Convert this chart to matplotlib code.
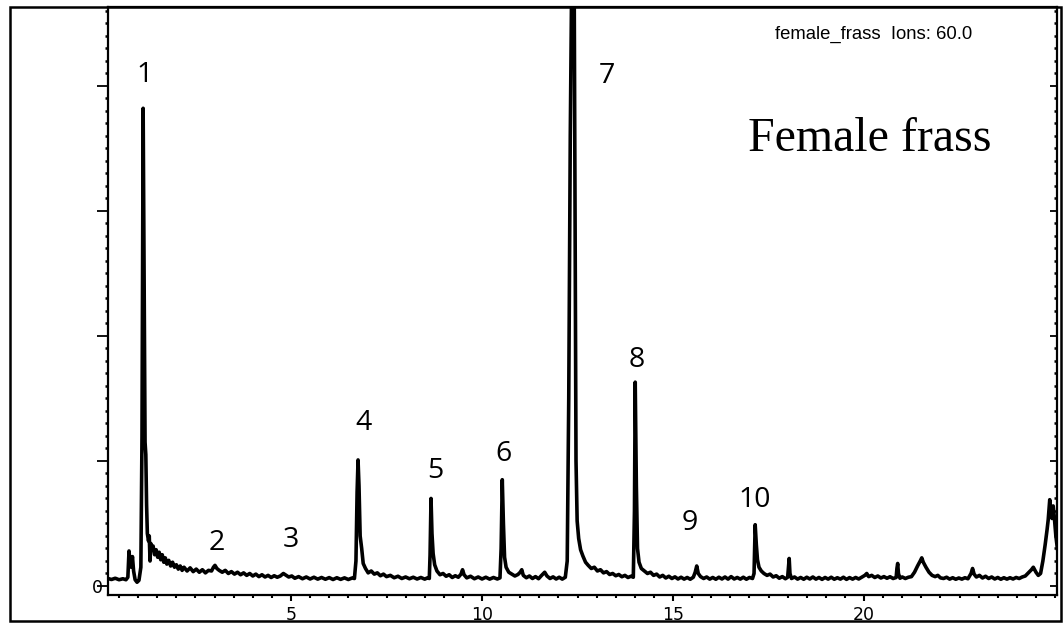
import matplotlib
matplotlib.use("Agg")
import matplotlib.pyplot as plt
from matplotlib.patches import Rectangle
from matplotlib.ticker import MultipleLocator, FixedLocator

# ---- data (retention time in min, relative abundance) ----
rt_min = [
    0.21, 0.30, 0.40, 0.50, 0.60, 0.68, 0.73, 0.76, 0.79, 0.82, 0.85, 0.88, 0.92, 0.97, 1.02, 1.07,
    1.10, 1.13, 1.16, 1.18, 1.20, 1.22, 1.24, 1.27, 1.29, 1.31, 1.33, 1.36, 1.39, 1.43, 1.47, 1.51,
    1.55, 1.59, 1.63, 1.67, 1.71, 1.75, 1.80, 1.85, 1.90, 1.95, 2.00, 2.05, 2.10, 2.15, 2.20, 2.28,
    2.36, 2.44, 2.52, 2.60, 2.68, 2.76, 2.84, 2.92, 2.97, 3.01, 3.06, 3.12, 3.20, 3.28, 3.36, 3.44,
    3.52, 3.60, 3.68, 3.76, 3.84, 3.92, 4.00, 4.08, 4.16, 4.24, 4.32, 4.40, 4.48, 4.56, 4.64, 4.72,
    4.80, 4.86, 4.94, 5.02, 5.10, 5.20, 5.30, 5.40, 5.50, 5.60, 5.70, 5.80, 5.90, 6.00, 6.10, 6.20,
    6.30, 6.40, 6.50, 6.60, 6.66,
    6.70, 6.73, 6.755, 6.78, 6.81, 6.85, 6.89, 6.95, 7.02, 7.10, 7.18, 7.26, 7.34, 7.42, 7.50, 7.60,
    7.70, 7.80, 7.90, 8.00, 8.10, 8.20, 8.30, 8.40, 8.50, 8.58, 8.62,
    8.64, 8.665, 8.69, 8.72, 8.76, 8.82, 8.90, 8.98, 9.06, 9.14, 9.22, 9.30, 9.38, 9.45, 9.49, 9.53,
    9.60, 9.70, 9.80, 9.90, 10.00, 10.10, 10.20, 10.30, 10.40, 10.47,
    10.50, 10.53, 10.56, 10.59, 10.63, 10.70, 10.78, 10.86, 10.94, 11.00, 11.04, 11.08, 11.16, 11.24,
    11.32, 11.40, 11.48, 11.56, 11.64, 11.70, 11.78, 11.86, 11.94, 12.02, 12.10, 12.18,
    12.23, 12.27, 12.31, 12.36, 12.41, 12.44, 12.46, 12.49, 12.53, 12.58, 12.64, 12.71, 12.78, 12.86,
    12.94, 13.02, 13.10, 13.18, 13.26, 13.34, 13.42, 13.50, 13.58, 13.66, 13.74, 13.82, 13.90, 13.96,
    13.99, 14.01, 14.04, 14.07, 14.11, 14.17, 14.25, 14.33, 14.41, 14.49, 14.57, 14.65, 14.73, 14.81,
    14.89, 14.97, 15.05, 15.13, 15.21, 15.29, 15.37, 15.45, 15.53, 15.58, 15.62, 15.66, 15.72, 15.80,
    15.88, 15.96, 16.04, 16.12, 16.20, 16.28, 16.36, 16.44, 16.52, 16.60, 16.68, 16.76, 16.84, 16.92,
    17.00, 17.08, 17.12,
    17.15, 17.18, 17.21, 17.25, 17.31, 17.38, 17.46, 17.54, 17.62, 17.70, 17.78, 17.86, 17.94, 18.00,
    18.02, 18.04, 18.06, 18.10, 18.18, 18.26, 18.34, 18.42, 18.50, 18.58, 18.66, 18.74, 18.82, 18.90,
    18.98, 19.06, 19.14, 19.22, 19.30, 19.38, 19.46, 19.54, 19.62, 19.70, 19.78, 19.86, 19.94, 20.02,
    20.07, 20.12, 20.20, 20.28, 20.36, 20.44, 20.52, 20.60, 20.68, 20.76, 20.84, 20.86, 20.88, 20.90,
    20.94, 21.00, 21.08, 21.16, 21.24, 21.32, 21.40, 21.47, 21.51, 21.55, 21.62, 21.70, 21.78, 21.86,
    21.93, 22.00, 22.08, 22.16, 22.24, 22.32, 22.40, 22.48, 22.56, 22.64, 22.72, 22.80, 22.84, 22.88,
    22.94, 23.02, 23.10, 23.18, 23.26, 23.34, 23.42, 23.50, 23.58, 23.66, 23.74, 23.82, 23.90, 23.98,
    24.06, 24.14, 24.22, 24.30, 24.38, 24.43, 24.50, 24.56, 24.62, 24.68, 24.74, 24.79, 24.82, 24.86,
    24.89, 24.92, 24.95, 24.98, 25.02, 25.06,
]

abundance = [
    0.060, 0.052, 0.062, 0.050, 0.058, 0.050, 0.070, 0.280, 0.170, 0.150, 0.235, 0.120, 0.050, 0.030, 0.045, 0.150,
    1.200, 3.820, 2.300, 1.150, 1.050, 0.650, 0.420, 0.360, 0.400, 0.200, 0.340, 0.290, 0.320, 0.250, 0.290, 0.230,
    0.270, 0.210, 0.250, 0.190, 0.225, 0.175, 0.205, 0.160, 0.190, 0.150, 0.170, 0.135, 0.160, 0.125, 0.150, 0.120,
    0.145, 0.115, 0.135, 0.110, 0.130, 0.105, 0.125, 0.120, 0.150, 0.165, 0.140, 0.125, 0.110, 0.125, 0.100, 0.115,
    0.095, 0.110, 0.090, 0.105, 0.085, 0.100, 0.080, 0.095, 0.075, 0.090, 0.072, 0.085, 0.068, 0.082, 0.070, 0.080,
    0.100, 0.088, 0.072, 0.080, 0.062, 0.075, 0.058, 0.072, 0.056, 0.070, 0.055, 0.068, 0.054, 0.067, 0.052, 0.066,
    0.053, 0.065, 0.052, 0.064, 0.060,
    0.200, 0.750, 1.008, 0.800, 0.400, 0.300, 0.180, 0.140, 0.105, 0.120, 0.095, 0.105, 0.082, 0.095, 0.075, 0.085,
    0.066, 0.078, 0.060, 0.072, 0.058, 0.070, 0.056, 0.068, 0.055, 0.066, 0.060,
    0.250, 0.700, 0.420, 0.260, 0.170, 0.120, 0.090, 0.100, 0.078, 0.090, 0.068, 0.082, 0.070, 0.095, 0.130, 0.090,
    0.065, 0.078, 0.058, 0.072, 0.056, 0.070, 0.055, 0.068, 0.056, 0.065,
    0.300, 0.850, 0.500, 0.230, 0.150, 0.110, 0.095, 0.080, 0.092, 0.110, 0.130, 0.085, 0.066, 0.080,
    0.060, 0.075, 0.058, 0.085, 0.110, 0.080, 0.060, 0.073, 0.056, 0.070, 0.055, 0.070,
    0.200, 1.500, 3.600, 5.300, 5.000, 2.600, 1.000, 0.520, 0.380, 0.290, 0.240, 0.190, 0.165, 0.140,
    0.150, 0.120, 0.130, 0.105, 0.115, 0.092, 0.100, 0.082, 0.092, 0.074, 0.085, 0.068, 0.078, 0.070,
    0.600, 1.630, 0.800, 0.300, 0.190, 0.140, 0.120, 0.100, 0.110, 0.085, 0.095, 0.072, 0.085, 0.064,
    0.078, 0.060, 0.073, 0.056, 0.070, 0.055, 0.068, 0.054, 0.070, 0.110, 0.160, 0.100, 0.075, 0.060,
    0.072, 0.055, 0.068, 0.054, 0.070, 0.056, 0.072, 0.055, 0.075, 0.056, 0.068, 0.055, 0.070, 0.054,
    0.068, 0.060, 0.100,
    0.490, 0.330, 0.210, 0.150, 0.120, 0.100, 0.085, 0.095, 0.072, 0.082, 0.062, 0.075, 0.058, 0.070,
    0.150, 0.220, 0.100, 0.060, 0.072, 0.055, 0.068, 0.054, 0.070, 0.056, 0.072, 0.055, 0.068, 0.053,
    0.068, 0.055, 0.070, 0.054, 0.066, 0.055, 0.070, 0.053, 0.067, 0.055, 0.068, 0.056, 0.070, 0.085,
    0.100, 0.075, 0.085, 0.068, 0.080, 0.064, 0.075, 0.062, 0.074, 0.060, 0.068, 0.140, 0.180, 0.100,
    0.062, 0.072, 0.060, 0.070, 0.075, 0.110, 0.160, 0.200, 0.225, 0.190, 0.150, 0.110, 0.085, 0.075,
    0.085, 0.065, 0.060, 0.070, 0.055, 0.066, 0.054, 0.064, 0.055, 0.066, 0.058, 0.100, 0.140, 0.095,
    0.072, 0.085, 0.064, 0.078, 0.060, 0.072, 0.056, 0.068, 0.054, 0.066, 0.055, 0.066, 0.056, 0.068,
    0.060, 0.072, 0.080, 0.105, 0.130, 0.150, 0.110, 0.085, 0.100, 0.200, 0.330, 0.450, 0.530, 0.690,
    0.600, 0.540, 0.640, 0.550, 0.400, 0.300,
]

peak_labels = ["1", "2", "3", "4", "5", "6", "7", "8", "9", "10"]
label_rt = [1.18, 3.06, 5.00, 6.91, 8.77, 10.55, 13.27, 14.06, 15.45, 17.15]
label_level = [4.03, 0.29, 0.31, 1.25, 0.86, 1.00, 4.02, 1.75, 0.45, 0.63]

x_major = [5, 10, 15, 20]
x_major_labels = ["5", "10", "15", "20"]
y_major = [0, 1, 2, 3, 4]
y_major_labels = ["0", "", "", "", ""]

sample_header = "female_frass  Ions: 60.0"
panel_title = "Female frass"

# ---- figure ----
W, H = 1063, 625
fig = plt.figure(figsize=(W / 100, H / 100), dpi=100)
fig.patch.set_facecolor("white")

def fx(px):
    return px / W

def fy(py):
    return 1 - py / H

ax = fig.add_axes([fx(108), fy(595), fx(1057) - fx(108), fy(7) - fy(595)])
ax.plot(rt_min, abundance, color="black", lw=2.6, solid_joinstyle="round")
ax.set_xlim(0.21, 25.05)
ax.set_ylim(-0.072, 4.63)

for s in ax.spines.values():
    s.set_linewidth(1.6)

# x axis ticks
ax.xaxis.set_major_locator(FixedLocator(x_major))
ax.set_xticklabels(x_major_labels)
ax.xaxis.set_minor_locator(MultipleLocator(0.5))
ax.tick_params(axis="x", which="major", direction="out", length=4.5, width=1.5,
               labelsize=12.5, pad=3.5)
ax.tick_params(axis="x", which="minor", direction="out", length=2.2, width=1.5)

# left y axis ticks
ax.yaxis.set_major_locator(FixedLocator(y_major))
ax.set_yticklabels(y_major_labels)
ax.yaxis.set_minor_locator(MultipleLocator(0.1))
ax.tick_params(axis="y", which="major", direction="out", length=8, width=1.3,
               labelsize=12.5, pad=-4.5)
ax.tick_params(axis="y", which="minor", direction="out", length=2, width=1.8)

# right y axis ticks (pointing inward)
axr = ax.twinx()
axr.set_ylim(ax.get_ylim())
axr.yaxis.set_major_locator(FixedLocator(y_major))
axr.yaxis.set_minor_locator(MultipleLocator(0.1))
axr.tick_params(axis="y", which="major", direction="in", length=5, width=1.3, labelright=False)
axr.tick_params(axis="y", which="minor", direction="in", length=2, width=1.8)
for s in axr.spines.values():
    s.set_visible(False)

# peak numbers
for lab, x, y in zip(peak_labels, label_rt, label_level):
    ax.text(x, y, lab, ha="center", va="baseline", fontsize=20.5,
            family=["Open Sans", "DejaVu Sans"], color="black")

fig.text(fx(873.5), fy(39.3), sample_header, ha="center", va="baseline",
         fontsize=13.3, family=["Liberation Sans", "DejaVu Sans"])
fig.text(fx(870), fy(151), panel_title, ha="center", va="baseline",
         fontsize=34.5, family=["Liberation Serif", "DejaVu Serif"])

# outer frame
fig.patches.append(Rectangle((fx(10), fy(621)), fx(1061) - fx(10), fy(7) - fy(621),
                             transform=fig.transFigure, fill=False, lw=1.8,
                             edgecolor="black", zorder=10))

fig.savefig("out.png", dpi=100, facecolor="white")
